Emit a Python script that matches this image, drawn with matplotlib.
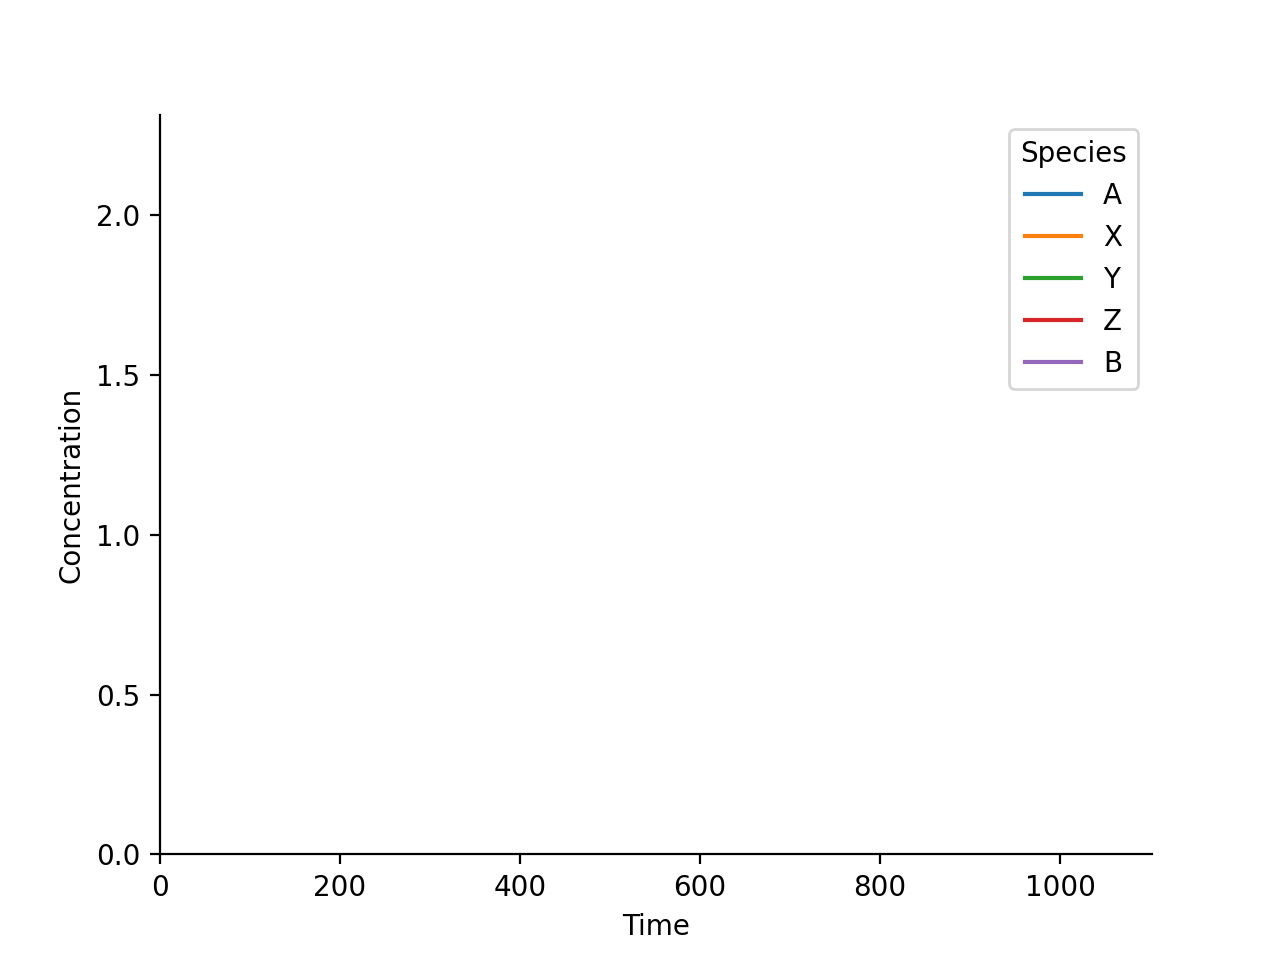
import matplotlib

matplotlib.use("Agg")
import matplotlib.pyplot as plt

species = ["A", "X", "Y", "Z", "B"]
colors = ["tab:blue", "tab:orange", "tab:green", "tab:red", "tab:purple"]

# no samples drawn yet: every series is still empty
times = []
values = {s: [] for s in species}

t_max = 1002
c_max = 2.103

fig, ax = plt.subplots(figsize=(6.4, 4.8), dpi=200)

for s, c in zip(species, colors):
    ax.plot(times, values[s], color=c, label=s)

ax.set_xlim(0, t_max * 1.1)
ax.set_ylim(0, c_max * 1.1)
ax.set(xlabel="Time", ylabel="Concentration")
ax.spines["top"].set_visible(False)
ax.spines["right"].set_visible(False)
ax.legend(title="Species", loc="upper right")

plt.savefig("out.png")
